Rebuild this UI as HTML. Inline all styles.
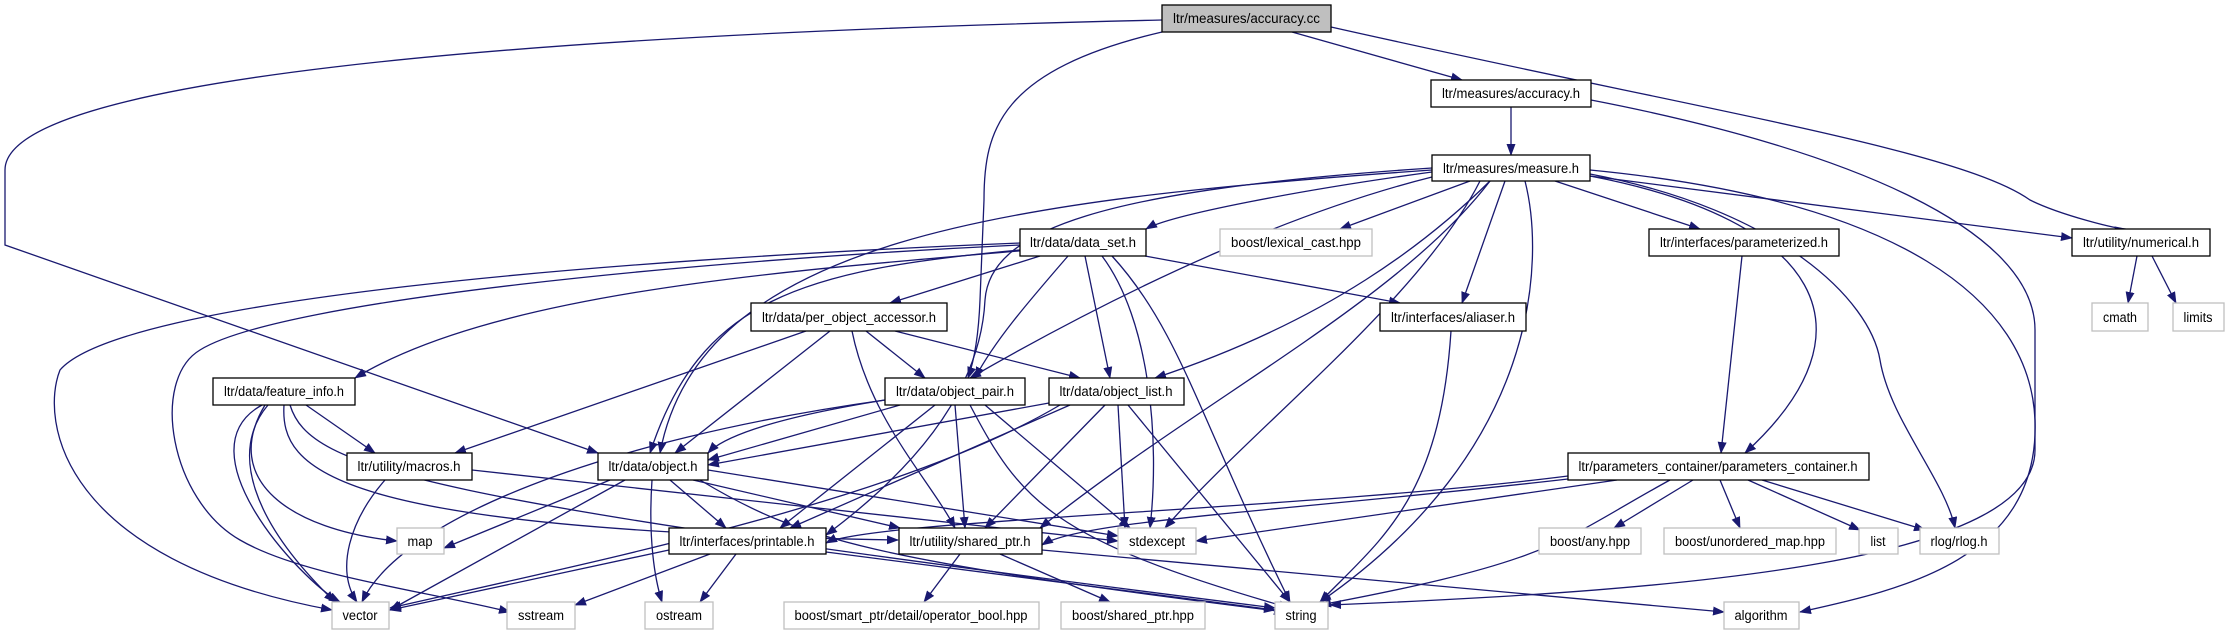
<!DOCTYPE html>
<html><head><meta charset="utf-8"><style>
html,body{margin:0;padding:0;background:#fff;}
svg{display:block}
text{font-family:"Liberation Sans",sans-serif;font-size:13.5px;fill:#000}
.e{fill:none;stroke:#191970;stroke-width:1.3}
.n{fill:#fff;stroke:#000;stroke-width:1.3}
.g{fill:#fff;stroke:#bfbfbf;stroke-width:1.3}
</style></head><body>
<svg width="2228" height="635" viewBox="0 0 2228 635" xmlns="http://www.w3.org/2000/svg">
<defs>
<marker id="a" markerWidth="12" markerHeight="9" refX="11" refY="4.5" orient="auto" markerUnits="userSpaceOnUse">
<path d="M0,0 L12,4.5 L0,9 z" fill="#191970"/>
</marker>
</defs>
<g marker-end="url(#a)">
<path class="e" d="M1292,32 L1462,80"/>
<path class="e" d="M1331,27 C1700,110 1960,150 2030,200 C2060,215 2120,230 2126,229"/>
<path class="e" d="M1162,20 C500,35 5,80 5,170 L5,245 L598,453"/>
<path class="e" d="M1162,32 C1000,70 984,130 984,200 L980,300 Q978,350 968,378"/>
<path class="e" d="M1511,107 L1511,155"/>
<path class="e" d="M1591,100 C1850,150 2035,230 2035,330 L2035,450 C2035,560 1700,590 1330,605"/>
<path class="e" d="M1432,172 C1300,190 1170,215 1146,229"/>
<path class="e" d="M1470,181 L1340,229"/>
<path class="e" d="M1555,181 L1700,229"/>
<path class="e" d="M1590,176 L2072,238"/>
<path class="e" d="M1505,181 L1462,303"/>
<path class="e" d="M1432,177 C1300,210 1140,280 970,378"/>
<path class="e" d="M1490,181 C1430,240 1330,320 1155,378"/>
<path class="e" d="M1432,170 C1000,200 700,240 660,453"/>
<path class="e" d="M1432,168 C1100,190 990,230 985,300 C980,400 900,480 826,535"/>
<path class="e" d="M1490,181 C1400,300 1200,400 1040,528"/>
<path class="e" d="M1480,181 C1420,300 1250,430 1165,528"/>
<path class="e" d="M1525,181 C1545,260 1540,450 1320,602"/>
<path class="e" d="M1590,176 C1820,220 1880,330 1745,453"/>
<path class="e" d="M1590,174 C1780,210 1870,300 1880,360 C1890,420 1945,480 1955,528"/>
<path class="e" d="M1590,170 C1900,200 2030,300 2035,420 C2040,560 1900,590 1800,612"/>
<path class="e" d="M1040,256 L890,303"/>
<path class="e" d="M1030,250 C800,270 500,290 355,378"/>
<path class="e" d="M1068,256 C1030,300 995,340 975,378"/>
<path class="e" d="M1085,256 L1110,378"/>
<path class="e" d="M1145,256 L1400,303"/>
<path class="e" d="M1020,245 C700,260 280,300 200,350 C150,380 170,500 240,540 C300,575 420,590 510,612"/>
<path class="e" d="M1020,243 C600,260 120,300 60,370 C40,420 60,560 332,610"/>
<path class="e" d="M1102,256 C1150,320 1160,440 1150,528"/>
<path class="e" d="M1112,256 C1180,330 1200,420 1290,602"/>
<path class="e" d="M1020,250 C800,270 700,300 650,453"/>
<path class="e" d="M866,331 L925,378"/>
<path class="e" d="M895,331 L1080,378"/>
<path class="e" d="M830,331 L675,453"/>
<path class="e" d="M806,331 L455,453"/>
<path class="e" d="M852,331 C870,420 930,480 955,528"/>
<path class="e" d="M306,405 L375,453"/>
<path class="e" d="M268,405 C230,450 250,520 335,602"/>
<path class="e" d="M265,405 C220,480 290,530 397,541"/>
<path class="e" d="M284,405 C280,470 330,530 898,540"/>
<path class="e" d="M290,405 C310,470 420,500 1275,608"/>
<path class="e" d="M262,405 C180,450 300,580 340,602"/>
<path class="e" d="M885,400 C760,420 720,440 708,453"/>
<path class="e" d="M900,405 L708,460"/>
<path class="e" d="M935,405 L780,528"/>
<path class="e" d="M955,405 L965,528"/>
<path class="e" d="M985,405 L1130,528"/>
<path class="e" d="M970,405 C1020,500 1050,540 1290,608"/>
<path class="e" d="M885,400 C600,440 400,520 362,602"/>
<path class="e" d="M1049,403 L708,465"/>
<path class="e" d="M1070,405 L790,528"/>
<path class="e" d="M1105,405 L985,528"/>
<path class="e" d="M1118,405 L1125,528"/>
<path class="e" d="M1128,405 L1290,602"/>
<path class="e" d="M1060,405 C900,500 600,560 390,608"/>
<path class="e" d="M385,480 C350,520 335,570 357,602"/>
<path class="e" d="M472,470 L1118,541"/>
<path class="e" d="M610,480 L444,548"/>
<path class="e" d="M625,480 L390,610"/>
<path class="e" d="M652,480 C648,540 655,580 662,602"/>
<path class="e" d="M670,480 L726,528"/>
<path class="e" d="M693,480 L900,528"/>
<path class="e" d="M708,470 L1118,536"/>
<path class="e" d="M700,480 C800,540 870,560 1285,612"/>
<path class="e" d="M669,550 L390,610"/>
<path class="e" d="M710,554 L575,605"/>
<path class="e" d="M736,554 L700,602"/>
<path class="e" d="M826,552 L1275,610"/>
<path class="e" d="M960,554 L924,602"/>
<path class="e" d="M1000,554 L1110,602"/>
<path class="e" d="M1042,550 L1724,612"/>
<path class="e" d="M1451,331 C1440,500 1380,540 1320,602"/>
<path class="e" d="M1742,256 L1721,453"/>
<path class="e" d="M1568,476 C1300,510 870,520 826,543"/>
<path class="e" d="M1568,479 C1300,510 1080,520 1042,545"/>
<path class="e" d="M1617,480 L1196,541"/>
<path class="e" d="M1670,480 C1560,540 1560,560 1320,605"/>
<path class="e" d="M1693,480 L1614,528"/>
<path class="e" d="M1720,480 L1740,528"/>
<path class="e" d="M1748,480 L1860,530"/>
<path class="e" d="M1762,480 L1925,530"/>
<path class="e" d="M2137,256 L2128,303"/>
<path class="e" d="M2152,256 L2176,303"/>
</g>
<rect x="1162" y="5" width="169" height="27" fill="#bfbfbf" stroke="#000" stroke-width="1.3"/>
<text x="1246.5" y="23" text-anchor="middle" textLength="147" lengthAdjust="spacingAndGlyphs">ltr/measures/accuracy.cc</text>
<g>
<rect class="n" x="1431" y="80" width="160" height="27"/><text x="1511" y="98" text-anchor="middle" textLength="138" lengthAdjust="spacingAndGlyphs">ltr/measures/accuracy.h</text>
<rect class="n" x="1432" y="155" width="158" height="26"/><text x="1511" y="173" text-anchor="middle" textLength="136" lengthAdjust="spacingAndGlyphs">ltr/measures/measure.h</text>
<rect class="n" x="1020" y="229" width="126" height="27"/><text x="1083" y="247" text-anchor="middle" textLength="106" lengthAdjust="spacingAndGlyphs">ltr/data/data_set.h</text>
<rect class="g" x="1220" y="229" width="152" height="27"/><text x="1296" y="247" text-anchor="middle" textLength="130" lengthAdjust="spacingAndGlyphs">boost/lexical_cast.hpp</text>
<rect class="n" x="1649" y="229" width="190" height="27"/><text x="1744" y="247" text-anchor="middle" textLength="168" lengthAdjust="spacingAndGlyphs">ltr/interfaces/parameterized.h</text>
<rect class="n" x="2072" y="229" width="138" height="27"/><text x="2141" y="247" text-anchor="middle" textLength="116" lengthAdjust="spacingAndGlyphs">ltr/utility/numerical.h</text>
<rect class="n" x="1380" y="303" width="146" height="28"/><text x="1453" y="322" text-anchor="middle" textLength="124" lengthAdjust="spacingAndGlyphs">ltr/interfaces/aliaser.h</text>
<rect class="g" x="2092" y="303" width="56" height="28"/><text x="2120" y="322" text-anchor="middle" textLength="34" lengthAdjust="spacingAndGlyphs">cmath</text>
<rect class="g" x="2173" y="303" width="51" height="28"/><text x="2198" y="322" text-anchor="middle" textLength="29" lengthAdjust="spacingAndGlyphs">limits</text>
<rect class="n" x="751" y="303" width="196" height="28"/><text x="849" y="322" text-anchor="middle" textLength="174" lengthAdjust="spacingAndGlyphs">ltr/data/per_object_accessor.h</text>
<rect class="n" x="213" y="378" width="142" height="27"/><text x="284" y="396" text-anchor="middle" textLength="120" lengthAdjust="spacingAndGlyphs">ltr/data/feature_info.h</text>
<rect class="n" x="885" y="378" width="140" height="27"/><text x="955" y="396" text-anchor="middle" textLength="118" lengthAdjust="spacingAndGlyphs">ltr/data/object_pair.h</text>
<rect class="n" x="1049" y="378" width="135" height="27"/><text x="1116" y="396" text-anchor="middle" textLength="113" lengthAdjust="spacingAndGlyphs">ltr/data/object_list.h</text>
<rect class="n" x="347" y="453" width="125" height="27"/><text x="409" y="471" text-anchor="middle" textLength="103" lengthAdjust="spacingAndGlyphs">ltr/utility/macros.h</text>
<rect class="n" x="598" y="453" width="110" height="27"/><text x="653" y="471" text-anchor="middle" textLength="89" lengthAdjust="spacingAndGlyphs">ltr/data/object.h</text>
<rect class="n" x="1568" y="453" width="301" height="27"/><text x="1718" y="471" text-anchor="middle" textLength="279" lengthAdjust="spacingAndGlyphs">ltr/parameters_container/parameters_container.h</text>
<rect class="g" x="397" y="528" width="47" height="26"/><text x="420" y="546" text-anchor="middle" textLength="25" lengthAdjust="spacingAndGlyphs">map</text>
<rect class="n" x="669" y="528" width="157" height="26"/><text x="747" y="546" text-anchor="middle" textLength="135" lengthAdjust="spacingAndGlyphs">ltr/interfaces/printable.h</text>
<rect class="n" x="899" y="528" width="143" height="26"/><text x="970" y="546" text-anchor="middle" textLength="121" lengthAdjust="spacingAndGlyphs">ltr/utility/shared_ptr.h</text>
<rect class="g" x="1118" y="528" width="78" height="26"/><text x="1157" y="546" text-anchor="middle" textLength="56" lengthAdjust="spacingAndGlyphs">stdexcept</text>
<rect class="g" x="1539" y="528" width="102" height="26"/><text x="1590" y="546" text-anchor="middle" textLength="80" lengthAdjust="spacingAndGlyphs">boost/any.hpp</text>
<rect class="g" x="1664" y="528" width="172" height="26"/><text x="1750" y="546" text-anchor="middle" textLength="150" lengthAdjust="spacingAndGlyphs">boost/unordered_map.hpp</text>
<rect class="g" x="1859" y="528" width="39" height="26"/><text x="1878" y="546" text-anchor="middle" textLength="15" lengthAdjust="spacingAndGlyphs">list</text>
<rect class="g" x="1920" y="528" width="79" height="26"/><text x="1959" y="546" text-anchor="middle" textLength="57" lengthAdjust="spacingAndGlyphs">rlog/rlog.h</text>
<rect class="g" x="332" y="602" width="57" height="27"/><text x="360" y="620" text-anchor="middle" textLength="35" lengthAdjust="spacingAndGlyphs">vector</text>
<rect class="g" x="507" y="602" width="68" height="27"/><text x="541" y="620" text-anchor="middle" textLength="46" lengthAdjust="spacingAndGlyphs">sstream</text>
<rect class="g" x="645" y="602" width="68" height="27"/><text x="679" y="620" text-anchor="middle" textLength="46" lengthAdjust="spacingAndGlyphs">ostream</text>
<rect class="g" x="784" y="602" width="255" height="27"/><text x="911" y="620" text-anchor="middle" textLength="233" lengthAdjust="spacingAndGlyphs">boost/smart_ptr/detail/operator_bool.hpp</text>
<rect class="g" x="1061" y="602" width="144" height="27"/><text x="1133" y="620" text-anchor="middle" textLength="122" lengthAdjust="spacingAndGlyphs">boost/shared_ptr.hpp</text>
<rect class="g" x="1275" y="602" width="53" height="27"/><text x="1301" y="620" text-anchor="middle" textLength="31" lengthAdjust="spacingAndGlyphs">string</text>
<rect class="g" x="1724" y="602" width="75" height="27"/><text x="1761" y="620" text-anchor="middle" textLength="53" lengthAdjust="spacingAndGlyphs">algorithm</text>
</g>
</svg>
</body></html>
